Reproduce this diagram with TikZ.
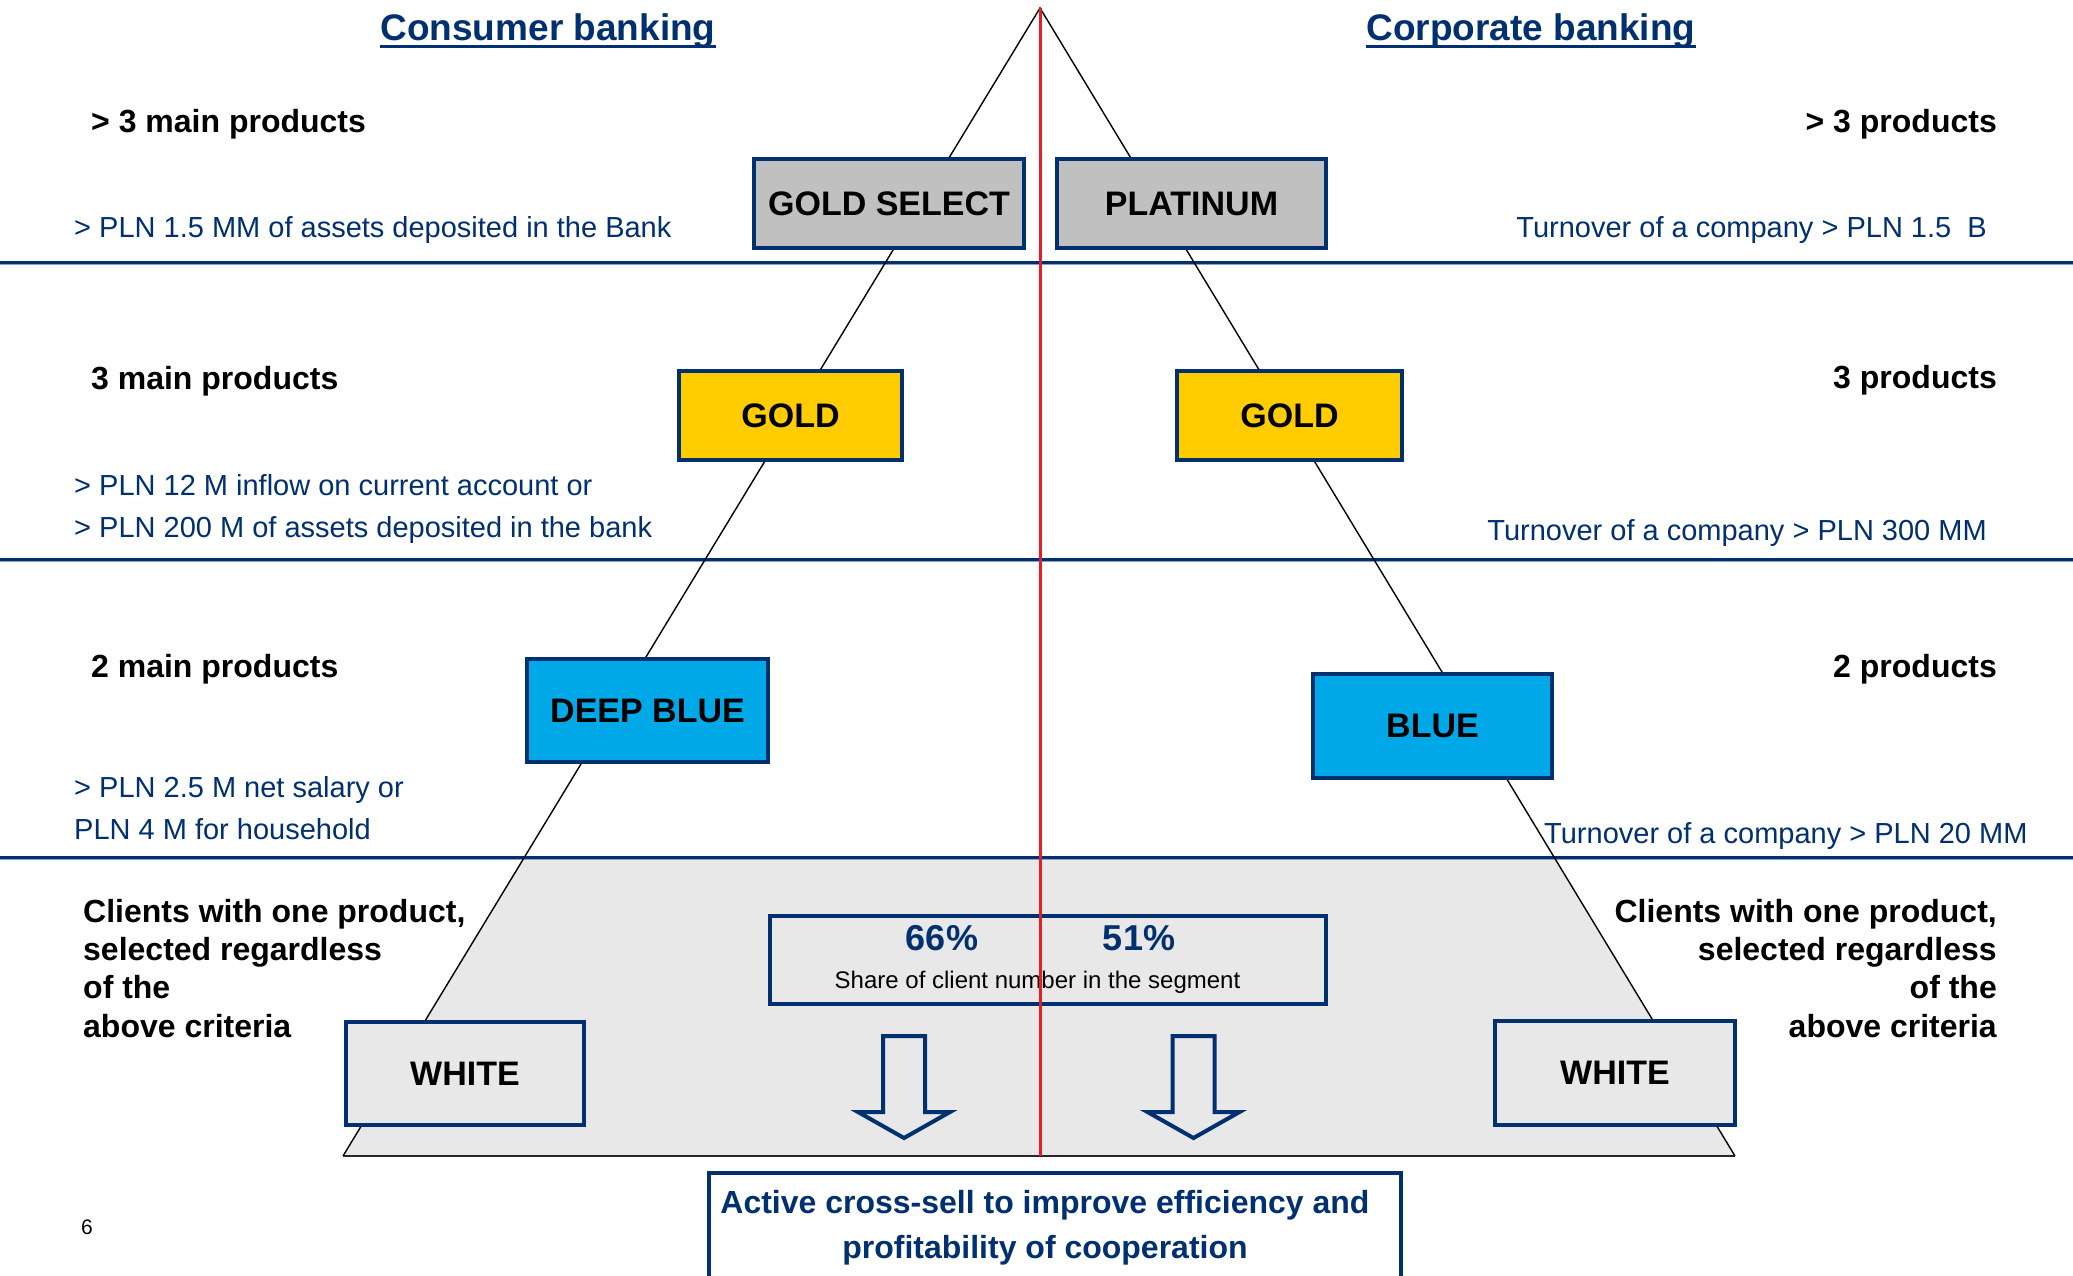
\documentclass[tikz,border=0pt]{standalone}
\usepackage{fontspec}
\setmainfont{Liberation Sans}
\definecolor{navy}{RGB}{0,48,112}
\definecolor{softnavy}{RGB}{140,160,195}
\definecolor{silverbox}{RGB}{192,192,192}
\definecolor{goldbox}{RGB}{255,204,0}
\definecolor{skybox}{RGB}{0,168,232}
\definecolor{panel}{RGB}{232,232,232}
\definecolor{axisred}{RGB}{228,30,38}
\begin{document}
\begin{tikzpicture}[x=1pt,y=-1pt,
  tier/.style={draw=navy, line width=4pt, inner sep=0pt, text=black,
    font=\fontsize{34}{40}\selectfont\bfseries},
  crit/.style={inner sep=0pt, text=black, font=\fontsize{32}{38}\selectfont\bfseries},
  cond/.style={inner sep=0pt, text=navy, font=\fontsize{29}{35}\selectfont},
  heading/.style={inner sep=0pt, text=navy, font=\fontsize{37}{44}\selectfont\bfseries},
  pct/.style={inner sep=0pt, text=navy, font=\fontsize{36}{42}\selectfont\bfseries},
  note/.style={inner sep=0pt, text=black, font=\fontsize{24}{29}\selectfont},
  calltext/.style={inner sep=0pt, text=navy, font=\fontsize{32}{38}\selectfont\bfseries},
  rule/.style={draw=navy, line width=3pt},
  ruleshade/.style={draw=softnavy, line width=1.2pt},
  edge/.style={draw=black, line width=1.4pt},
  hollowarrow/.pic={
    \draw[navy, line width=4pt, fill=panel, line join=miter]
      (-21,2) -- (21,2) -- (21,78) -- (46,78) -- (0,104) -- (-46,78) -- (-21,78) -- cycle;
  }]
\clip (0,0) rectangle (2073,1275);
\fill[white] (0,0) rectangle (2073,1275);

% pyramid geometry
\coordinate (apex) at (1040,8);
\coordinate (bl) at (343,1156);
\coordinate (br) at (1735,1156);
\coordinate (pl) at (524.5,857);
\coordinate (pr) at (1554,857);
\coordinate (redbot) at (1040,1156);

% shaded base band of the pyramid
\fill[panel] (pl) -- (pr) -- (br) -- (bl) -- cycle;

% horizontal tier separators
\foreach \yy in {262,559,857}{
  \draw[ruleshade] (0,\yy+2.6) -- (2073,\yy+2.6);
  \draw[rule] (0,\yy) -- (2073,\yy);
}

% pyramid outline
\draw[edge] (bl) -- (apex) -- (br);
\draw[draw=black!85, line width=2.4pt] (bl) -- (br);

% headings
\node[heading, anchor=base] (hcons) at (548,40) {Consumer banking};
\node[heading, anchor=base] (hcorp) at (1531,40) {Corporate banking};
\draw[navy, line width=3pt] ([yshift=-6pt]hcons.base west) -- ([yshift=-6pt]hcons.base east);
\draw[navy, line width=3pt] ([yshift=-6pt]hcorp.base west) -- ([yshift=-6pt]hcorp.base east);

% consumer criteria
\node[crit, anchor=base west] (lc1) at (91,132) {> 3 main products};
\node[cond, anchor=base west] (ld1) at (74,237) {> PLN 1.5 MM of assets deposited in the Bank};
\node[crit, anchor=base west] (lc2) at (91,389) {3 main products};
\node[cond, anchor=base west] (ld2a) at (74,495) {> PLN 12 M inflow on current account or};
\node[cond, anchor=base west] (ld2b) at (74,537) {> PLN 200 M of assets deposited in the bank};
\node[crit, anchor=base west] (lc3) at (91,677) {2 main products};
\node[cond, anchor=base west] (ld3a) at (74,797) {> PLN 2.5 M net salary or};
\node[cond, anchor=base west] (ld3b) at (74,839) {PLN 4 M for household};
\node[crit, anchor=base west] (lw1) at (83,922) {Clients with one product,};
\node[crit, anchor=base west] (lw2) at (83,960) {selected regardless};
\node[crit, anchor=base west] (lw3) at (83,998) {of the};
\node[crit, anchor=base west] (lw4) at (83,1037) {above criteria};

% corporate criteria
\node[crit, anchor=base east] (rc1) at (1997,132) {> 3 products};
\node[cond, anchor=base east] (rd1) at (1987,237) {Turnover of a company > PLN 1.5~ B};
\node[crit, anchor=base east] (rc2) at (1997,388) {3 products};
\node[cond, anchor=base east] (rd2) at (1987,540) {Turnover of a company > PLN 300 MM};
\node[crit, anchor=base east] (rc3) at (1997,677) {2 products};
\node[cond, anchor=base west] (rd3) at (1544,843) {Turnover of a company > PLN 20 MM};
\node[crit, anchor=base east] (rw1) at (1997,922) {Clients with one product,};
\node[crit, anchor=base east] (rw2) at (1997,960) {selected regardless};
\node[crit, anchor=base east] (rw3) at (1997,998) {of the};
\node[crit, anchor=base east] (rw4) at (1997,1037) {above criteria};

% segment boxes
\node[tier, fill=silverbox, minimum width=270, minimum height=89] (goldsel) at (889,203.5) {GOLD SELECT};
\node[tier, fill=silverbox, minimum width=269, minimum height=89] (plat) at (1191.5,203.5) {PLATINUM};
\node[tier, fill=goldbox, minimum width=223, minimum height=89] (goldL) at (790.5,415.5) {GOLD};
\node[tier, fill=goldbox, minimum width=225, minimum height=89] (goldR) at (1289.5,415.5) {GOLD};
\node[tier, fill=skybox, minimum width=241, minimum height=103] (deep) at (647.5,710.5) {DEEP BLUE};
\node[tier, fill=skybox, minimum width=239, minimum height=104] (blue) at (1432.5,726) {BLUE};
\node[tier, fill=panel, minimum width=238, minimum height=103] (whiteL) at (465,1073.5) {WHITE};
\node[tier, fill=panel, minimum width=240, minimum height=104] (whiteR) at (1615,1073) {WHITE};

% client share box
\node[draw=navy, line width=4pt, fill=panel, inner sep=0pt, minimum width=556, minimum height=88] (share) at (1048,960) {};
\node[pct, anchor=base] (pctL) at (942,950) {66\%};
\node[pct, anchor=base] (pctR) at (1139,950) {51\%};
\node[note, anchor=base] (sharetxt) at (1037.5,988) {Share of client number in the segment};

% cross-sell arrows
\pic (arrL) at (904,1034) {hollowarrow};
\pic (arrR) at (1193.5,1034) {hollowarrow};

% cross-sell call-out
\node[draw=navy, line width=4pt, fill=white, inner sep=0pt, minimum width=692, minimum height=140] (cross) at (1055,1243) {};
\node[calltext, anchor=base] (cross1) at (1045,1213) {Active cross-sell to improve efficiency and};
\node[calltext, anchor=base] (cross2) at (1045,1258) {profitability of cooperation};

% dividing axis between the two segments
\draw[axisred, line width=3pt] (apex) -- (redbot);

% page number
\node[inner sep=0pt, anchor=base west, font=\fontsize{21}{25}\selectfont] (pageno) at (81,1234) {6};
\end{tikzpicture}
\end{document}
